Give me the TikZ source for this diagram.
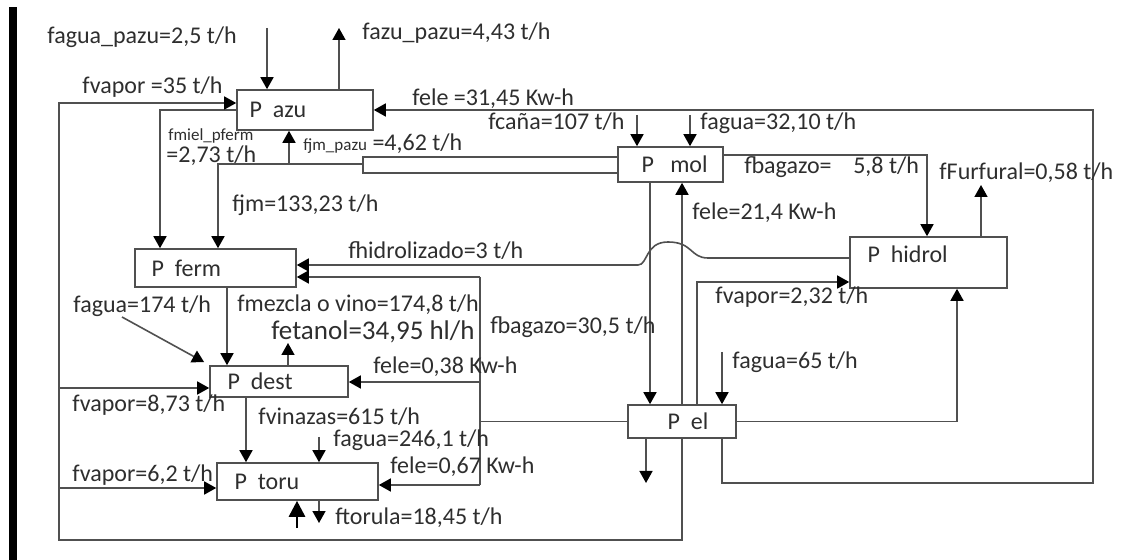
\documentclass[tikz,border=0pt]{standalone}
\usepackage{fontspec}
\setmainfont{Carlito}
\usetikzlibrary{positioning,arrows.meta,calc}

\definecolor{linegray}{HTML}{505050}
\definecolor{textgray}{HTML}{2E2E2E}

\begin{document}
\begin{tikzpicture}[x=0.5pt,y=-0.5pt,
    every node/.style={font=\fontsize{12}{14}\selectfont,text=textgray},
    proc/.style={draw=linegray,line width=0.8pt,inner sep=0pt},
    lbl/.style={anchor=west,inner sep=0pt},
    tiny/.style={font=\fontsize{8.5}{10}\selectfont},
    pipe/.style={draw=linegray,line width=0.8pt},
    flow/.style={pipe,-{Triangle[width=6.5pt,length=6pt,color=black]}},
    bigflow/.style={draw=black,line width=1.4pt,-{Triangle[width=8pt,length=8pt]}}]

\useasboundingbox (0,0) rectangle (1139,560);
\fill[black] (9,7) rectangle (17,560); % left bar

% process boxes
\node[proc,minimum width=68pt,minimum height=20pt] (pazu) at (305,110) {};
\node[proc,minimum width=52.5pt,minimum height=17.5pt] (pmol) at (670.5,164.5) {};
\node[proc,minimum width=78.5pt,minimum height=25.5pt] (phidrol) at (928.5,262.5) {};
\node[proc,minimum width=80.5pt,minimum height=19pt] (pferm) at (215.5,268) {};
\node[proc,minimum width=69pt,minimum height=15.5pt] (pdest) at (279,381.5) {};
\node[proc,minimum width=80.5pt,minimum height=18.5pt] (ptoru) at (297.5,481.5) {};
\node[proc,minimum width=54pt,minimum height=16.5pt] (pel) at (682,421.5) {};

\node[inner sep=0pt,right=6.5pt of pazu.west] (nazu) {P~~azu};
\node[inner sep=0pt,right=12pt of pmol.west] (nmol) {P~~~mol};
\node[inner sep=0pt,right=9pt of phidrol.west,yshift=4.25pt] (nhidrol) {P~~hidrol};
\node[inner sep=0pt,right=8.5pt of pferm.west] (nferm) {P~~ferm};
\node[inner sep=0pt,right=9pt of pdest.west] (ndest) {P~~dest};
\node[inner sep=0pt,right=9pt of ptoru.west] (ntoru) {P~~toru};
\node[inner sep=0pt,right=20pt of pel.west] (nel) {P~~el};

% free ends and bends
\coordinate (aguaazu) at (267,28);
\coordinate (azuout) at (339,28);
\coordinate (mielx) at (160,110);
\coordinate (pipetop) at (363,157);
\coordinate (pipebot) at (363,173);
\coordinate (jmsplit) at (363,164);
\coordinate (jmx) at (218,164);
\coordinate (jmazu) at (289,164);
\coordinate (cana) at (637,115);
\coordinate (aguamol) at (690,115);
\coordinate (bagx) at (927,155);
\coordinate (furf) at (981,185);
\coordinate (humpr) at (708,258);
\coordinate (humpl) at (638,265);
\coordinate (eleferm) at (480,277);
\coordinate (eledest) at (480,382);
\coordinate (eletoru) at (480,485);
\coordinate (mezx) at (227,287);
\coordinate (etan) at (288,343);
\coordinate (agua174) at (122,317);
\coordinate (vinx) at (246,397);
\coordinate (agua246) at (319,437);
\coordinate (torin) at (297,528);
\coordinate (torout) at (319,523);
\coordinate (bag30) at (650,182);
\coordinate (ele21) at (682,405);
\coordinate (vaphid) at (697,282);
\coordinate (agua65) at (722,352);
\coordinate (elout) at (646,483);
\coordinate (vapcorner) at (59,540);
\coordinate (vapdest) at (59,388);
\coordinate (vaptoru) at (59,488);
\coordinate (elecorner) at (722,483);
\coordinate (eleright) at (1093,483);
\coordinate (elhid) at (957,421.5);

% P azu
\draw[flow] (aguaazu) -- (aguaazu |- pazu.north);
\draw[flow] (azuout |- pazu.north) -- (azuout);
\draw[flow] (pazu.west) -| (mielx |- pferm.north);
\draw[flow] (jmazu) -- (jmazu |- pazu.south);

% P mol
\draw[pipe] (pmol.west |- pipetop) -- (pipetop) -- (pipebot) -- (pmol.west |- pipebot);
\draw[flow] (jmsplit) -| (jmx |- pferm.north);
\draw[flow] (cana) -- (cana |- pmol.north);
\draw[flow] (aguamol) -- (aguamol |- pmol.north);
\draw[flow] (pmol.east |- bagx) -- (bagx) -- (bagx |- phidrol.north);
\draw[flow] (bag30) -- (bag30 |- pel.north);
\draw[flow] (ele21) -- (ele21 |- pmol.south);

% P hidrol
\draw[flow] (furf |- phidrol.north) -- (furf);
\draw[flow] ([yshift=2.25pt]phidrol.west) -- (humpr)
  .. controls (690,258) and (693,242) .. (668,242)
  .. controls (645,242) and (648,265) .. (humpl) -- ([yshift=1.5pt]pferm.east);

% P el
\draw[flow] (vaphid |- pel.north) -- (vaphid) -- (vaphid -| phidrol.west);
\draw[flow] (agua65) -- (agua65 |- pel.north);
\draw[flow] (elout |- pel.south) -- (elout);
\draw[flow] (pel.east) -- (elhid) -- (elhid |- phidrol.south);
\draw[pipe] (pel.west) -- (pel.west -| eleferm);
\draw[pipe] (eleferm) -- (eletoru);
\draw[flow] (eleferm) -- (eleferm -| pferm.east);
\draw[flow] (eledest) -- (eledest -| pdest.east);
\draw[flow] (eletoru) -- (eletoru -| ptoru.east);
\draw[flow] (pel.south) |- (vapcorner) |- ([yshift=3.5pt]pazu.west);
\draw[flow] (vapdest) -- (vapdest -| pdest.west);
\draw[flow] (vaptoru) -- (vaptoru -| ptoru.west);
\draw[flow] (elecorner |- pel.south) -- (elecorner) -- (eleright) |- (pazu.east);

% P ferm, P dest, P toru
\draw[flow] (mezx) -- (mezx |- pdest.north);
\draw[flow] (etan |- pdest.north) -- (etan);
\draw[flow] (agua174) -- ([xshift=-2.5pt,yshift=1.5pt]pdest.north west);
\draw[flow] (vinx) -- (vinx |- ptoru.north);
\draw[flow] (agua246) -- (agua246 |- ptoru.north);
\draw[bigflow] (torin) -- (torin |- ptoru.south);
\draw[flow] (torout |- ptoru.south) -- (torout);

% labels
\node[lbl] (t1) at (47,37) {fagua\_pazu=2,5 t/h};
\node[lbl] (t2) at (362,33) {fazu\_pazu=4,43 t/h};
\node[lbl] (t3) at (82,87) {fvapor =35 t/h};
\node[lbl] (t4) at (412,99) {fele =31,45 Kw-h};
\node[lbl] (t5) at (488,122) {fcaña=107 t/h};
\node[lbl] (t6) at (700,123) {fagua=32,10 t/h};
\node[lbl,tiny] (t7) at (168,136) {fmiel\_pferm};
\node[lbl] (t8) at (166,156) {=2,73 t/h};
\node[lbl] (t9) at (303,144) {{\fontsize{8.5}{10}\selectfont fjm\_pazu} =4,62 t/h};
\node[lbl] (t10) at (744,167) {fbagazo=~~~~5,8 t/h};
\node[lbl] (t11) at (939,173) {fFurfural=0,58 t/h};
\node[lbl] (t12) at (232,205) {fjm=133,23 t/h};
\node[lbl] (t13) at (692,213) {fele=21,4 Kw-h};
\node[lbl] (t14) at (348,251) {fhidrolizado=3 t/h};
\node[lbl] (t15) at (715,297) {fvapor=2,32 t/h};
\node[lbl] (t16) at (73,306) {fagua=174 t/h};
\node[lbl] (t17) at (237,305) {fmezcla o vino=174,8 t/h};
\node[lbl,font=\fontsize{13.5}{15}\selectfont] (t18) at (271,332) {fetanol=34,95 hl/h};
\node[lbl] (t19) at (490,327) {fbagazo=30,5 t/h};
\node[lbl] (t20) at (732,362) {fagua=65 t/h};
\node[lbl] (t21) at (373,367) {fele=0,38 Kw-h};
\node[lbl] (t22) at (72,405) {fvapor=8,73 t/h};
\node[lbl] (t23) at (258,417) {fvinazas=615 t/h};
\node[lbl] (t24) at (333,440) {fagua=246,1 t/h};
\node[lbl] (t25) at (390,467) {fele=0,67 Kw-h};
\node[lbl] (t26) at (72,475) {fvapor=6,2 t/h};
\node[lbl] (t27) at (335,518) {ftorula=18,45 t/h};
\end{tikzpicture}
\end{document}
